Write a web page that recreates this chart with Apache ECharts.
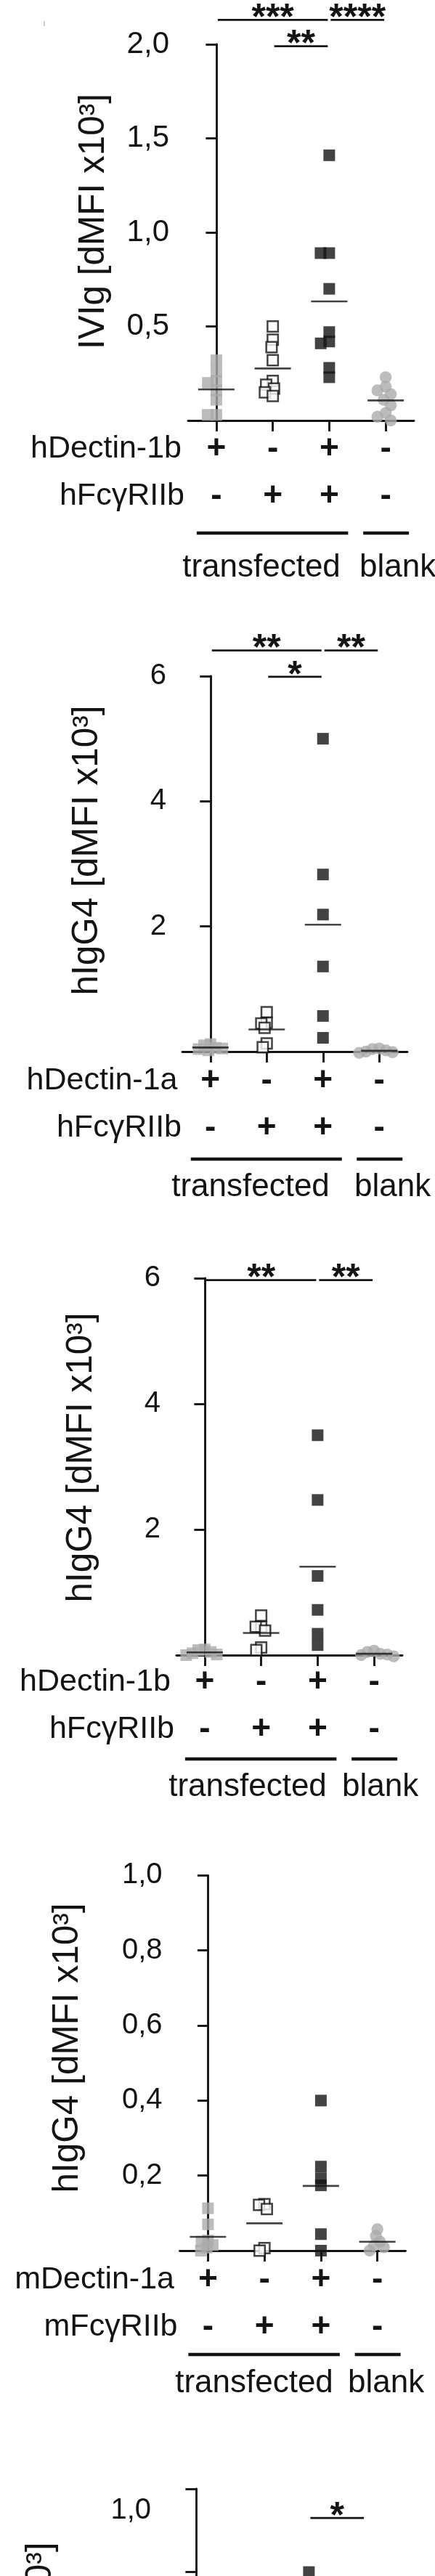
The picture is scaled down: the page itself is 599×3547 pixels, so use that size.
<!DOCTYPE html>
<html>
<head>
<meta charset="utf-8">
<script src="https://cdn.jsdelivr.net/npm/echarts@6/dist/echarts.min.js"></script>
<style>
  html, body { margin: 0; padding: 0; background: #ffffff; }
  #wrap { position: relative; width: 599px; height: 3547px; overflow: hidden; background: #ffffff; }
  .panel { position: absolute; left: 0; width: 599px; }
</style>
</head>
<body>
<div id="wrap"></div>
<script>
// ================= DATA =================
const categories = ['Dectin-1', 'FcγRIIb', 'Dectin-1 + FcγRIIb', 'untransfected'];
const row1Signs = ['+', '-', '+', '-'];
const row2Signs = ['-', '+', '+', '-'];
const groupLabels = ['transfected', 'blank'];

// Panel 1
const p1RowLabels = ['hDectin-1b', 'hFcγRIIb'];
const p1YLabel = 'IVIg [dMFI x10³]';
const p1TickValues = [0.5, 1.0, 1.5, 2.0];
const p1TickLabels = ['0,5', '1,0', '1,5', '2,0'];
const p1Dectin = [0.32, 0.26, 0.21, 0.20, 0.16, 0.11, 0.03, 0.03];
const p1Fc = [0.50, 0.43, 0.39, 0.32, 0.21, 0.19, 0.17, 0.15, 0.13];
const p1Both = [1.41, 0.89, 0.89, 0.70, 0.47, 0.42, 0.41, 0.28, 0.23];
const p1Blank = [0.23, 0.18, 0.16, 0.14, 0.11, 0.08, 0.04, 0.02, 0.00];
const p1SigFrom = [0, 2, 1];
const p1SigTo = [2, 3, 2];
const p1SigLevel = [2.13, 2.13, 1.99];
const p1SigText = ['***', '****', '**'];

// Panel 2
const p2RowLabels = ['hDectin-1a', 'hFcγRIIb'];
const p2YLabel = 'hIgG4 [dMFI x10³]';
const p2TickValues = [2, 4, 6];
const p2TickLabels = ['2', '4', '6'];
const p2Dectin = [0.12, 0.10, 0.06, 0.05, 0.04, 0.02];
const p2Fc = [0.63, 0.46, 0.45, 0.38, 0.13, 0.07];
const p2Both = [5.00, 2.83, 2.19, 1.36, 0.57, 0.22];
const p2Blank = [0.05, 0.04, 0.02, 0.00, -0.01, -0.02];
const p2SigFrom = [0, 2, 1];
const p2SigTo = [2, 3, 2];
const p2SigLevel = [6.41, 6.41, 5.99];
const p2SigText = ['**', '**', '*'];

// Panel 3
const p3RowLabels = ['hDectin-1b', 'hFcγRIIb'];
const p3YLabel = 'hIgG4 [dMFI x10³]';
const p3TickValues = [2, 4, 6];
const p3TickLabels = ['2', '4', '6'];
const p3Dectin = [0.09, 0.08, 0.05, 0.03, 0.01, 0.00];
const p3Fc = [0.63, 0.45, 0.45, 0.39, 0.12, 0.08];
const p3Both = [3.50, 2.47, 1.26, 0.72, 0.34, 0.16];
const p3Blank = [0.07, 0.05, 0.02, 0.01, 0.00, -0.02];
const p3SigFrom = [0, 2];
const p3SigTo = [2, 3];
const p3SigLevel = [5.97, 5.97];
const p3SigText = ['**', '**'];

// Panel 4
const p4RowLabels = ['mDectin-1a', 'mFcγRIIb'];
const p4YLabel = 'hIgG4 [dMFI x10³]';
const p4TickValues = [0.2, 0.4, 0.6, 0.8, 1.0];
const p4TickLabels = ['0,2', '0,4', '0,6', '0,8', '1,0'];
const p4Dectin = [0.113, 0.070, 0.027, 0.024, 0.015, 0.008, 0.000];
const p4Fc = [0.124, 0.122, 0.111, 0.007, 0.000];
const p4Both = [0.400, 0.224, 0.193, 0.174, 0.044, 0.000];
const p4Blank = [0.057, 0.039, 0.024, 0.014, 0.009, 0.000];
const p4SigFrom = [];
const p4SigTo = [];
const p4SigLevel = [];
const p4SigText = [];

// Panel 5 (only its top part is visible)
const p5RowLabels = [];
const p5YLabel = 'hIgG4 [dMFI x10³]';
const p5TickValues = [0.2, 0.4, 0.6, 0.8, 1.0];
const p5TickLabels = ['0,2', '0,4', '0,6', '0,8', '1,0'];
const p5Dectin = [];
const p5Fc = [];
const p5Both = [0.80];
const p5Blank = [];
const p5SigFrom = [2];
const p5SigTo = [3];
const p5SigLevel = [0.93];
const p5SigText = ['*'];

// ================= LAYOUT / STYLE =================
const FONT = "'Liberation Sans', Arial, Helvetica, sans-serif";
const INK = '#141414';
const GRAY = '#ababab';

const panels = [
  { top: 0, height: 830, left: 259, gridW: 311, yTop: 61, yBot: 579, max: 2, interval: 0.5,
    tickFont: 42, yLabelMargin: 26, xLabelMargin: 6.5, rowRight: [250, 254], rowY: [618, 683],
    lineY: 734, textY: 782, tTextX: 360, bTextX: 495, yNameX: 129.5, yNameY: 305, jitterMargin: -4,
    showMean: true, showRows: true, labelShift: 0,
    rows: p1RowLabels, yName: p1YLabel, tv: p1TickValues, tl: p1TickLabels,
    groups: [p1Dectin, p1Fc, p1Both, p1Blank], sig: [p1SigFrom, p1SigTo, p1SigLevel, p1SigText] },
  { top: 830, height: 860, left: 251, gridW: 310, yTop: 931, yBot: 1448, max: 6, interval: 2,
    tickFont: 40, yLabelMargin: 22, xLabelMargin: 7.5, rowRight: [244.5, 250], rowY: [1488, 1553],
    lineY: 1596, textY: 1635, tTextX: 345, bTextX: 488, yNameX: 120.5, yNameY: 1171, jitterMargin: -7,
    showMean: true, showRows: true, labelShift: 0,
    rows: p2RowLabels, yName: p2YLabel, tv: p2TickValues, tl: p2TickLabels,
    groups: [p2Dectin, p2Fc, p2Both, p2Blank], sig: [p2SigFrom, p2SigTo, p2SigLevel, p2SigText] },
  { top: 1690, height: 810, left: 243, gridW: 311, yTop: 1760, yBot: 2279, max: 6, interval: 2,
    tickFont: 40, yLabelMargin: 22, xLabelMargin: 5, rowRight: [235, 240], rowY: [2316.5, 2381.5],
    lineY: 2422, textY: 2461, tTextX: 341, bTextX: 471, yNameX: 112.5, yNameY: 2007, jitterMargin: -7,
    showMean: true, showRows: true, labelShift: 0,
    rows: p3RowLabels, yName: p3YLabel, tv: p3TickValues, tl: p3TickLabels,
    groups: [p3Dectin, p3Fc, p3Both, p3Blank], sig: [p3SigFrom, p3SigTo, p3SigLevel, p3SigText] },
  { top: 2500, height: 820, left: 247.5, gridW: 311, yTop: 2582.4, yBot: 3099, max: 1, interval: 0.2,
    tickFont: 40, yLabelMargin: 24, xLabelMargin: 7.5, rowRight: [240, 244.5], rowY: [3139, 3204],
    lineY: 3242, textY: 3282, tTextX: 350, bTextX: 479, yNameX: 93.5, yNameY: 2820, jitterMargin: -7,
    showMean: true, showRows: true, labelShift: 0,
    rows: p4RowLabels, yName: p4YLabel, tv: p4TickValues, tl: p4TickLabels,
    groups: [p4Dectin, p4Fc, p4Both, p4Blank], sig: [p4SigFrom, p4SigTo, p4SigLevel, p4SigText] },
  { top: 3320, height: 800, left: 231, gridW: 311, yTop: 3427, yBot: 4000, max: 1, interval: 0.2,
    tickFont: 40, yLabelMargin: 23, xLabelMargin: 7.5, rowRight: [], rowY: [],
    lineY: 0, textY: 0, tTextX: 0, bTextX: 0, yNameX: 56.5, yNameY: 3700, jitterMargin: -7,
    showMean: false, showRows: false, labelShift: 20,
    rows: p5RowLabels, yName: p5YLabel, tv: p5TickValues, tl: p5TickLabels,
    groups: [p5Dectin, p5Fc, p5Both, p5Blank], sig: [p5SigFrom, p5SigTo, p5SigLevel, p5SigText] }
];

const groupStyles = [
  { symbol: 'rect', size: 16, itemStyle: { color: GRAY } },
  { symbol: 'rect', size: 14.5, itemStyle: { color: '#ffffff', borderColor: INK, borderWidth: 2.5 } },
  { symbol: 'rect', size: 16, itemStyle: { color: INK } },
  { symbol: 'circle', size: 16.5, itemStyle: { color: GRAY } }
];

const mean = arr => arr.reduce((s, v) => s + v, 0) / arr.length;

const wrap = document.getElementById('wrap');

panels.forEach(cfg => {
  const div = document.createElement('div');
  div.className = 'panel';
  div.style.top = cfg.top + 'px';
  div.style.height = cfg.height + 'px';
  wrap.appendChild(div);
  const chart = echarts.init(div, null, { renderer: 'canvas', width: 599, height: cfg.height });

  const gTop = cfg.yTop - cfg.top;
  const gH = cfg.yBot - cfg.yTop;
  const lineStyle = { color: INK, width: 2.9 };

  const series = [];
  cfg.groups.forEach((vals, gi) => {
    const st = groupStyles[gi];
    series.push({
      type: 'scatter', xAxisIndex: 0, yAxisIndex: 0, clip: false, z: 3,
      symbol: st.symbol, symbolSize: st.size, itemStyle: st.itemStyle,
      silent: true, animation: false,
      data: vals.map(v => [categories[gi], v])
    });
  });
  if (cfg.showMean) {
    series.push({
      type: 'scatter', xAxisIndex: 1, yAxisIndex: 0, clip: false, z: 6,
      symbol: 'rect', symbolSize: [50, 2.6], itemStyle: { color: INK },
      silent: true, animation: false,
      data: cfg.groups.map((vals, gi) => vals.length ? [categories[gi], mean(vals)] : null).filter(Boolean)
    });
  }
  const [sFrom, sTo, sLevel, sText] = cfg.sig;
  if (sFrom.length) {
    series.push({
      type: 'custom', xAxisIndex: 2, yAxisIndex: 0, clip: false, z: 7, silent: true, animation: false,
      encode: { x: [0, 1], y: 2 },
      data: sFrom.map((f, i) => [f, sTo[i], sLevel[i]]),
      renderItem: (params, api) => {
        const i = params.dataIndex;
        const a = api.coord([api.value(0), api.value(2)]);
        const b = api.coord([api.value(1), api.value(2)]);
        const x1 = a[0] + 2, x2 = b[0] - 2, y = a[1];
        return {
          type: 'group',
          children: [
            { type: 'line', shape: { x1: x1, y1: y, x2: x2, y2: y }, style: { stroke: INK, lineWidth: 2.7 } },
            { type: 'text', x: (x1 + x2) / 2, y: y - 1,
              style: { text: sText[i], fill: INK, fontSize: 50, fontWeight: 'bold', fontFamily: FONT,
                       align: 'center', verticalAlign: 'middle' } }
          ]
        };
      }
    });
  }

  const shifted = cfg.labelShift > 0;
  const option = {
    backgroundColor: 'transparent',
    animation: false,
    grid: { left: cfg.left, top: gTop, width: cfg.gridW, height: gH, containLabel: false, outerBoundsMode: 'none' },
    xAxis: [
      {
        type: 'category', data: categories, gridIndex: 0, boundaryGap: true,
        jitter: 64, jitterOverlap: false, jitterMargin: cfg.jitterMargin,
        axisLine: { show: true, onZero: false, lineStyle: lineStyle },
        axisTick: { show: true, alignWithLabel: true, length: 15, lineStyle: lineStyle },
        axisLabel: {
          show: cfg.showRows, interval: 0, margin: cfg.xLabelMargin,
          formatter: v => { const i = categories.indexOf(v); return row1Signs[i] + '\n' + row2Signs[i]; },
          fontSize: 46, fontWeight: 'bold', lineHeight: 65, color: INK, fontFamily: FONT
        },
        splitLine: { show: false }
      },
      { type: 'category', data: categories, gridIndex: 0, show: false, boundaryGap: true },
      { type: 'value', gridIndex: 0, show: false, min: -0.5, max: 3.5 }
    ],
    yAxis: [{
      type: 'value', min: 0, max: cfg.max, interval: cfg.interval,
      axisLine: { show: true, lineStyle: lineStyle },
      axisTick: { show: true, length: 14.5, lineStyle: lineStyle },
      splitLine: { show: false },
      axisLabel: {
        showMinLabel: false, margin: cfg.yLabelMargin, color: INK, fontSize: cfg.tickFont, fontFamily: FONT,
        verticalAlign: shifted ? 'top' : 'middle',
        lineHeight: shifted ? cfg.labelShift : undefined,
        formatter: v => {
          const i = cfg.tv.findIndex(t => Math.abs(t - v) < 1e-9);
          if (i < 0) return '';
          return shifted ? '\n' + cfg.tl[i] : cfg.tl[i];
        }
      }
    }],
    series: series
  };
  chart.setOption(option);

  // annotations positioned through the category scale
  const cx = i => chart.convertToPixel({ xAxisIndex: 1 }, categories[i]);
  const T = y => y - cfg.top;
  const txt = (text, x, y, size, align, extra) => Object.assign({
    type: 'text', x: x, y: y, silent: true,
    style: { text: text, fill: INK, fontSize: size, fontFamily: FONT, align: align, verticalAlign: 'middle',
             textAlign: align, textVerticalAlign: 'middle' }
  }, extra || {});

  const graphics = [];
  graphics.push(txt(cfg.yName, cfg.yNameX, T(cfg.yNameY), 49.5, 'center', { rotation: Math.PI / 2 }));
  if (cfg.showRows) {
    cfg.rows.forEach((r, k) => graphics.push(txt(r, cfg.rowRight[k], T(cfg.rowY[k]), 43, 'right')));
    const ly = T(cfg.lineY);
    graphics.push({ type: 'line', silent: true, shape: { x1: cx(0) - 27, y1: ly, x2: cx(2) + 26, y2: ly },
                    style: { stroke: INK, lineWidth: 4.6 } });
    graphics.push({ type: 'line', silent: true, shape: { x1: cx(3) - 31, y1: ly, x2: cx(3) + 32, y2: ly },
                    style: { stroke: INK, lineWidth: 4.6 } });
    graphics.push(txt(groupLabels[0], cfg.tTextX, T(cfg.textY), 44, 'center'));
    graphics.push(txt(groupLabels[1], cfg.bTextX, T(cfg.textY), 44, 'left'));
  }
  if (cfg.top === 0) {
    graphics.push({ type: 'line', silent: true, shape: { x1: 61, y1: 29, x2: 61, y2: 36 },
                    style: { stroke: '#9a9a9a', lineWidth: 1 } });
  }
  chart.setOption({ graphic: graphics });
});
</script>
</body>
</html>
